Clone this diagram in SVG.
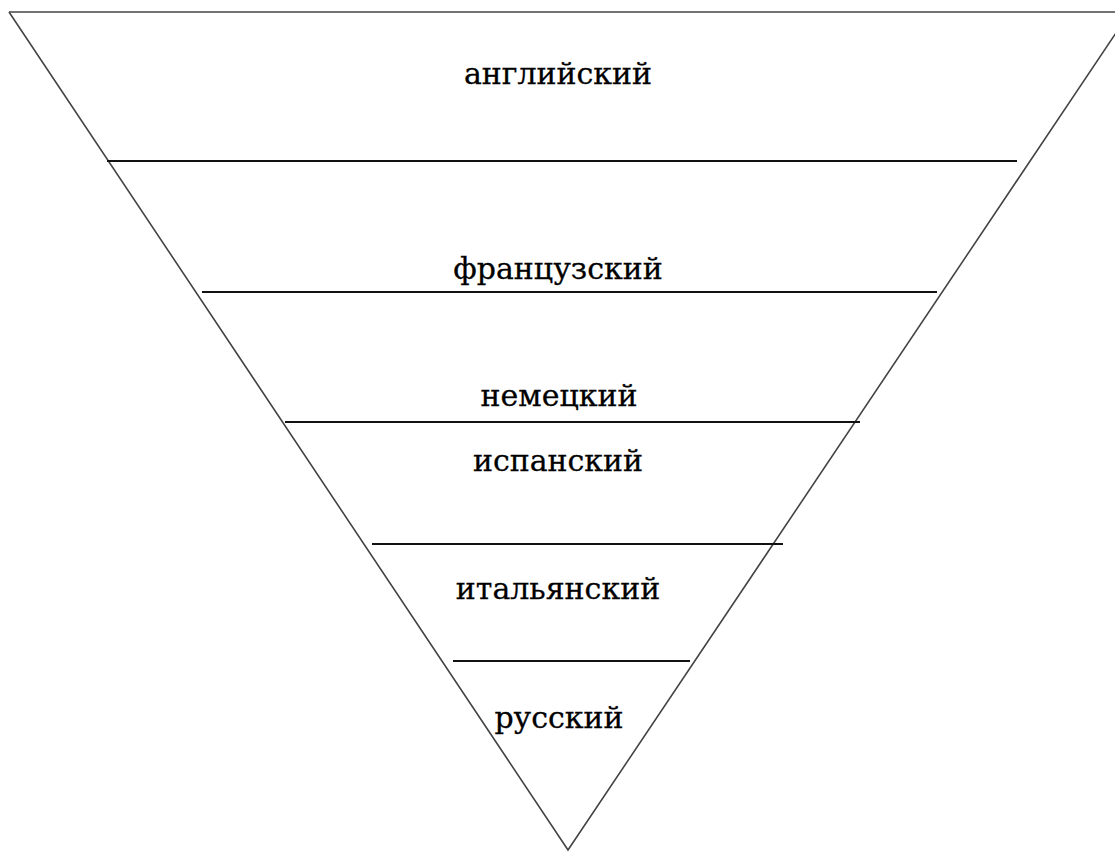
<svg xmlns="http://www.w3.org/2000/svg" width="1115" height="852" viewBox="0 0 1115 852">
  <style>
    .edge { fill: none; stroke: #444; stroke-width: 1.6; }
    .rule { stroke: #111; stroke-width: 1.8; }
    .label { font-family: "DejaVu Serif", "Liberation Serif", serif; font-size: 30px; fill: #000; stroke: #000; stroke-width: 0.3; text-anchor: middle; }
  </style>
  <rect width="1115" height="852" fill="#fff"/>
  <!-- inverted triangle outline -->
  <g id="triangle">
    <line class="edge" x1="9" y1="12" x2="1115" y2="12"/>
    <polyline class="edge" points="9,12 568,850 1130,12"/>
  </g>
  <!-- horizontal dividers between the levels -->
  <g id="dividers">
    <line class="rule" x1="107" y1="161" x2="1017" y2="161"/>
    <line class="rule" x1="202" y1="292" x2="937" y2="292"/>
    <line class="rule" x1="285" y1="422" x2="860" y2="422"/>
    <line class="rule" x1="372" y1="544" x2="783" y2="544"/>
    <line class="rule" x1="453" y1="661" x2="690" y2="661"/>
  </g>
  <g id="level-english"><text class="label" x="558" y="84">английский</text></g>
  <g id="level-french"><text class="label" x="558" y="279">французский</text></g>
  <g id="level-german"><text class="label" x="559" y="406">немецкий</text></g>
  <g id="level-spanish"><text class="label" x="558" y="471">испанский</text></g>
  <g id="level-italian"><text class="label" x="558" y="599">итальянский</text></g>
  <g id="level-russian"><text class="label" x="559" y="728">русский</text></g>
</svg>
